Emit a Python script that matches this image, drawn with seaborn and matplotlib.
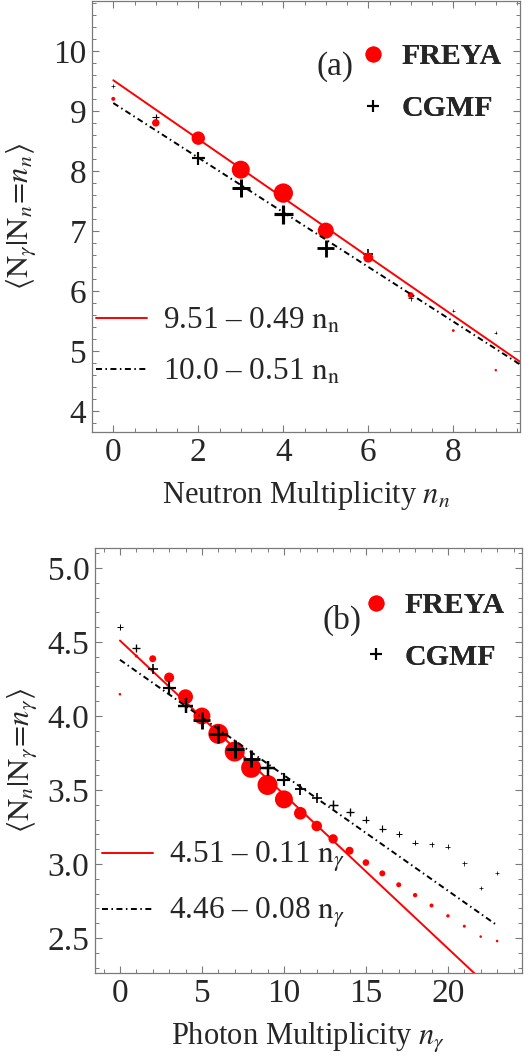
import numpy as np
import pandas as pd
import matplotlib
matplotlib.use("Agg")
import matplotlib.pyplot as plt
import seaborn as sns
from matplotlib.lines import Line2D
from matplotlib.ticker import MultipleLocator

# ---- panel (a): <N_gamma | N_n = n_n> ----
n_a = [0, 1, 2, 3, 4, 5, 6, 7, 8, 9]
freya_a = [9.20, 8.80, 8.545, 8.02, 7.63, 7.005, 6.555, 5.93, 5.34, 4.68]
cgmf_a = [9.41, 8.89, 8.21, 7.71, 7.28, 6.71, 6.61, 5.88, 5.67, 5.305]
# relative weight of each multiplicity (drives marker size)
freya_a_w = [0.04, 0.14, 0.45, 0.81, 0.94, 0.64, 0.25, 0.09, 0.02, 0.015]
cgmf_a_w = [0.04, 0.12, 0.42, 0.81, 0.90, 0.72, 0.25, 0.06, 0.03, 0.027]
fit_a_freya = (9.51, -0.49)
fit_a_cgmf = (9.13, -0.455)
fit_a_labels = ["9.51 – 0.49 $\\mathrm{n_n}$", "10.0 – 0.51 $\\mathrm{n_n}$"]

# ---- panel (b): <N_n | N_gamma = n_gamma> ----
n_b = list(range(24))
freya_b = [4.147, 4.405, 4.387, 4.26, 4.13, 4.00, 3.88, 3.76, 3.65, 3.534, 3.437, 3.343,
           3.257, 3.17, 3.09, 3.01, 2.937, 2.86, 2.79, 2.72, 2.65, 2.58, 2.51, 2.48]
cgmf_b = [4.603, 4.46, 4.32, 4.19, 4.07, 3.97, 3.88, 3.775, 3.71, 3.647, 3.568, 3.505,
          3.444, 3.40, 3.353, 3.30, 3.24, 3.20, 3.144, 3.135, 3.117, 3.005, 2.84, 2.94]
freya_b_w = [0.017, 0.023, 0.12, 0.25, 0.56, 0.72, 1.0, 1.0, 1.0, 1.0, 0.81, 0.40,
             0.28, 0.22, 0.16, 0.11, 0.09, 0.063, 0.048, 0.04, 0.029, 0.023, 0.017, 0.017]
cgmf_b_w = [0.09, 0.16, 0.25, 0.42, 0.56, 0.72, 0.81, 0.81, 0.72, 0.56, 0.42, 0.30,
            0.25, 0.20, 0.16, 0.12, 0.12, 0.09, 0.076, 0.0625, 0.0625, 0.05, 0.04, 0.04]
fit_b_freya = (4.51, -0.104)
fit_b_cgmf = (4.38, -0.078)
fit_b_labels = ["4.51 – 0.11 $\\mathrm{n}_\\gamma$", "4.46 – 0.08 $\\mathrm{n}_\\gamma$"]

sns.set_style("ticks")
plt.rcParams["font.family"] = ["Liberation Serif", "DejaVu Serif"]
plt.rcParams["mathtext.fontset"] = "stix"
plt.rcParams["lines.scale_dashes"] = False

RED = "#ff0000"
FRAME = "#7a7a7a"
DASHDOT = (0, (4.3, 2.5, 1.1, 2.5))
SMAX = 207

fig = plt.figure(figsize=(5.31, 10.57), dpi=100)
ax_a = fig.add_axes([91.7 / 531, 1 - 432 / 1057, 428.3 / 531, 431 / 1057])
ax_b = fig.add_axes([95 / 531, 1 - 973 / 1057, 426.7 / 531, 425 / 1057])


def draw_freya(ax, x, y, w, z):
    df = pd.DataFrame({"x": x, "y": y, "w": w})
    sns.scatterplot(data=df, x="x", y="y", size="w", sizes=(0, SMAX), size_norm=(0, 1),
                    marker="o", color=RED, edgecolor="none", linewidth=0,
                    legend=False, ax=ax, zorder=z)


def draw_cgmf(ax, x, y, w, z):
    df = pd.DataFrame({"x": x, "y": y, "w": w})
    lw = np.clip(2.4 * np.sqrt(df["w"].to_numpy()), 0.5, None)
    sns.scatterplot(data=df, x="x", y="y", size="w", sizes=(0, SMAX), size_norm=(0, 1),
                    marker="+", color="black", edgecolor="black", linewidth=lw,
                    legend=False, ax=ax, zorder=z)


def fit_line(ax, fit, x0, x1, **kw):
    xs = np.array([x0, x1])
    ax.plot(xs, fit[0] + fit[1] * xs, **kw)


def style_axes(ax):
    for s in ax.spines.values():
        s.set_color(FRAME)
        s.set_linewidth(0.9)
    ax.tick_params(which="both", direction="in", top=True, right=True,
                   color=FRAME, labelsize=24)
    ax.tick_params(which="major", length=5, width=0.8)
    ax.tick_params(which="minor", length=2.8, width=0.7)
    ax.tick_params(axis="x", pad=4)
    ax.tick_params(axis="y", pad=4)


# ---- panel (a)
draw_cgmf(ax_a, n_a, cgmf_a, cgmf_a_w, 2)
draw_freya(ax_a, n_a, freya_a, freya_a_w, 3)
fit_line(ax_a, fit_a_freya, 0, 10, color=RED, lw=1.4, zorder=4)
fit_line(ax_a, fit_a_cgmf, 0, 10, color="black", lw=1.4, linestyle=DASHDOT, zorder=4)
ax_a.set_xlim(-0.508, 9.57)
ax_a.set_ylim(3.65, 10.83)
ax_a.set_xticks([0, 2, 4, 6, 8])
ax_a.set_yticks([4, 5, 6, 7, 8, 9, 10])
ax_a.xaxis.set_minor_locator(MultipleLocator(0.5))
ax_a.yaxis.set_minor_locator(MultipleLocator(0.2))
ax_a.set_xlabel("Neutron Multiplicity $n_n$", fontsize=22)
ax_a.set_ylabel(r"$\langle \mathrm{N}_\gamma | \mathrm{N}_n\!=\!n_n \rangle$", fontsize=22)
ax_a.xaxis.set_label_coords(0.5, -0.108)
ax_a.yaxis.set_label_coords(-0.122, 0.5)
style_axes(ax_a)

# ---- panel (b)
draw_freya(ax_b, n_b, freya_b, freya_b_w, 2)
fit_line(ax_b, fit_b_freya, 0, 24, color=RED, lw=1.4, zorder=3)
fit_line(ax_b, fit_b_cgmf, 0, 23, color="black", lw=1.4, linestyle=DASHDOT, zorder=3)
draw_cgmf(ax_b, n_b, cgmf_b, cgmf_b_w, 4)
ax_b.set_xlim(-1.52, 24.5)
ax_b.set_ylim(2.264, 5.135)
ax_b.set_xticks([0, 5, 10, 15, 20])
ax_b.set_yticks([2.5, 3.0, 3.5, 4.0, 4.5, 5.0])
ax_b.set_yticklabels(["2.5", "3.0", "3.5", "4.0", "4.5", "5.0"])
ax_b.xaxis.set_minor_locator(MultipleLocator(1))
ax_b.yaxis.set_minor_locator(MultipleLocator(0.1))
ax_b.set_xlabel("Photon Multiplicity $n_\\gamma$", fontsize=22)
ax_b.set_ylabel(r"$\langle \mathrm{N}_n | \mathrm{N}_\gamma\!=\!n_\gamma \rangle$", fontsize=22)
ax_b.xaxis.set_label_coords(0.5, -0.114)
ax_b.yaxis.set_label_coords(-0.130, 0.5)
style_axes(ax_b)

# ---- legends
marker_handles = [
    Line2D([], [], marker="o", color=RED, linestyle="none", markersize=11.5, markeredgewidth=0),
    Line2D([], [], marker="+", color="black", linestyle="none", markersize=9, markeredgewidth=1.5),
]
line_handles = [
    Line2D([], [], color=RED, lw=1.4),
    Line2D([], [], color="black", lw=1.4, linestyle=DASHDOT),
]

for ax, tag, mpos, tpos, lpos, labels in [
    (ax_a, "(a)", (0.6228, 0.810), (0.568, 0.847), (0.010, 0.198), fit_a_labels),
    (ax_b, "(b)", (0.6243, 0.8035), (0.579, 0.8306), (0.0157, 0.206), fit_b_labels),
]:
    leg1 = ax.legend(marker_handles, ["FREYA", "CGMF"], loc="center left",
                     bbox_to_anchor=mpos, frameon=False, borderpad=0, borderaxespad=0,
                     handlelength=1.0, handletextpad=0.45, labelspacing=0.83,
                     prop={"weight": "bold", "size": 21.5})
    ax.add_artist(leg1)
    ax.legend(line_handles, labels, loc="center left", bbox_to_anchor=lpos,
              frameon=False, borderpad=0, borderaxespad=0, handlelength=1.63,
              handletextpad=0.51, labelspacing=0.69, fontsize=22.5)
    ax.add_artist(leg1)
    ax.text(tpos[0], tpos[1], tag, transform=ax.transAxes, ha="center", va="center",
            fontsize=24)

fig.savefig("out.png", dpi=100)
